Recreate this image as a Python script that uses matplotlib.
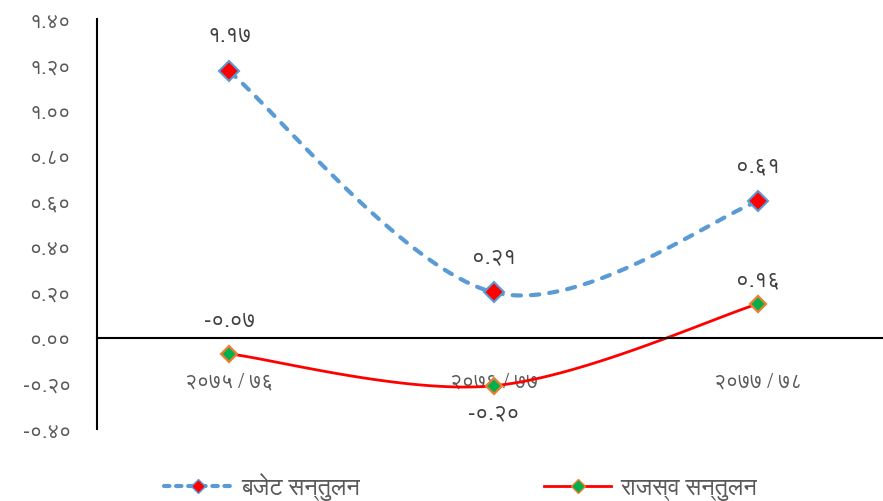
import matplotlib
matplotlib.use("Agg")
import numpy as np
import matplotlib.pyplot as plt
from matplotlib import font_manager
from matplotlib.ft2font import FT2Font
from matplotlib.lines import Line2D

categories = ["२०७५ / ७६", "२०७६ / ७७", "२०७७ / ७८"]
budget_balance = [1.17, 0.20, 0.60]
budget_labels = ["१.१७", "०.२१", "०.६१"]
revenue_balance = [-0.07, -0.21, 0.15]
revenue_labels = ["-०.०७", "-०.२०", "०.१६"]
y_ticks = [-0.4, -0.2, 0.0, 0.2, 0.4, 0.6, 0.8, 1.0, 1.2, 1.4]
series_names = ["बजेट सन्तुलन", "राजस्व सन्तुलन"]


def find_font(code):
    # regular, non condensed font that has the glyph
    found = []
    for f in font_manager.fontManager.ttflist:
        try:
            if code not in FT2Font(f.fname).get_charmap():
                continue
        except Exception:
            continue
        score = 0
        if f.stretch != "normal" or "ondensed" in f.name:
            score += 10
        if f.weight not in (400, "normal", "regular"):
            score += 5
        if f.style != "normal":
            score += 5
        if "Sans" not in f.name:
            score += 1
        found.append((score, f.name))
    found.sort()
    return found[0][1] if found else None


deva = find_font(0x0967)
fams = [deva, "DejaVu Sans"] if deva else ["DejaVu Sans"]
plt.rcParams["font.family"] = fams

DIGITS = str.maketrans("0123456789", "०१२३४५६७८९")


def to_deva(v):
    return ("%.2f" % v).translate(DIGITS)


def smooth(y, n=60):
    # Catmull-Rom style curve through the points (like excel smoothed line)
    x = np.arange(len(y), dtype=float)
    y = np.asarray(y, dtype=float)
    px = np.concatenate([[x[0]], x, [x[-1]]])
    py = np.concatenate([[y[0]], y, [y[-1]]])
    xs, ys = [], []
    t = np.linspace(0, 1, n)
    for i in range(1, len(px) - 2):
        p0, p1, p2, p3 = [np.array([px[j], py[j]]) for j in range(i - 1, i + 3)]
        c1 = p1 + (p2 - p0) / 6.0
        c2 = p2 - (p3 - p1) / 6.0
        pts = ((1 - t) ** 3)[:, None] * p1 + (3 * (1 - t) ** 2 * t)[:, None] * c1 \
            + (3 * (1 - t) * t ** 2)[:, None] * c2 + (t ** 3)[:, None] * p2
        xs.extend(pts[:, 0])
        ys.extend(pts[:, 1])
    return np.array(xs), np.array(ys)


fig = plt.figure(figsize=(8.83, 5.02), dpi=100)
ax = fig.add_axes([0.110, 0.1434, 0.8986, 0.8166])

# spine position first, it resets the ticks
ax.spines["bottom"].set_position(("data", 0))
ax.spines["top"].set_visible(False)
ax.spines["right"].set_visible(False)
ax.spines["left"].set_linewidth(1.5)
ax.spines["bottom"].set_linewidth(1.5)

blue = "#5B9BD5"
x = np.arange(len(categories))

bx, by = smooth(budget_balance)
ax.plot(bx, by, color=blue, lw=3.0, ls=(0, (2.0, 2.4)), dash_capstyle="round", zorder=2)
ax.plot(x, budget_balance, ls="none", marker="D", ms=10, mfc="red", mec=blue, mew=1.5, zorder=3)

rx, ry = smooth(revenue_balance)
ax.plot(rx, ry, color="red", lw=2.0, zorder=2)
ax.plot(x, revenue_balance, ls="none", marker="D", ms=8.5, mfc="#00B050", mec="#ED7D31", mew=1.6, zorder=3)

for i, lab in enumerate(budget_labels):
    ax.annotate(lab, (x[i], budget_balance[i]), xytext=(0, 36), textcoords="offset pixels",
                ha="center", va="center", fontsize=16, color="#404040")
offs = [33, -27, 24]
for i, lab in enumerate(revenue_labels):
    ax.annotate(lab, (x[i], revenue_balance[i]), xytext=(0, offs[i]), textcoords="offset pixels",
                ha="center", va="center", fontsize=16, color="#404040")

ax.set_xlim(-0.5, 2.5)
ax.set_ylim(-0.4, 1.4)
ax.set_yticks(y_ticks)
ax.set_yticklabels([to_deva(v) for v in y_ticks])
ax.tick_params(axis="y", length=0, pad=19, labelsize=15, labelcolor="#595959")

ax.set_xticks(x)
ax.set_xticklabels(categories)
ax.tick_params(axis="x", length=0, pad=24, labelsize=15, labelcolor="#595959")

handles = [
    Line2D([], [], color=blue, lw=3.0, ls=(0, (1.3, 1.6)), dash_capstyle="round",
           marker="D", ms=7, mfc="red", mec=blue),
    Line2D([], [], color="red", lw=2.0, marker="D", ms=7, mfc="#00B050", mec="#ED7D31"),
]
fig.legend(handles, series_names, loc="center", bbox_to_anchor=(0.522, 0.03), ncol=2,
           frameon=False, fontsize=17, handlelength=2.85, handletextpad=0.4,
           columnspacing=7.8, labelcolor="#595959")

fig.savefig("out.png", dpi=100)
